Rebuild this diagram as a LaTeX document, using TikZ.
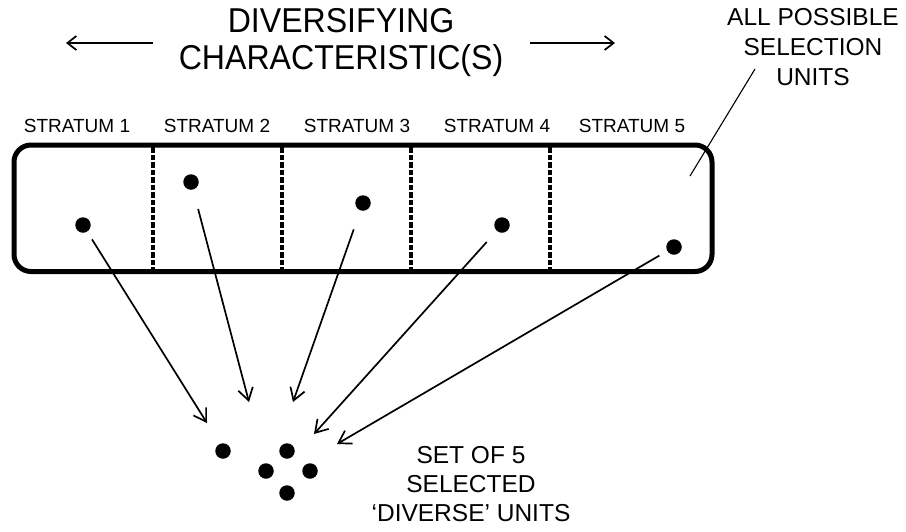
\documentclass[tikz,border=0pt]{standalone}
\usepackage{fontspec}
\setmainfont{Liberation Sans}
\usetikzlibrary{arrows.meta}
\newcommand{\narrowtitle}[1]{\scalebox{0.93}[1]{#1}}
\begin{document}
\begin{tikzpicture}[x=1pt,y=-1pt,
  lbl/.style={inner sep=0pt, anchor=base},
  titlefont/.style={font=\fontsize{34.5}{40}\selectfont},
  stratfont/.style={font=\fontsize{19}{23}\selectfont},
  notefont/.style={font=\fontsize{24.5}{29}\selectfont},
  unitdot/.style={circle, fill=black, inner sep=0pt, minimum size=15.5pt},
  selarrow/.style={-{Straight Barb[length=12pt,width=15pt,line width=1.7pt]}, line width=1.7pt},
  dirarrow/.style={-{Straight Barb[length=9pt,width=14pt,line width=1.7pt]}, line width=1.7pt},
  divider/.style={line width=3.2pt, dash pattern=on 5.5pt off 2pt}
]
\useasboundingbox (0,0) rectangle (906,531);

% title
\node[lbl, titlefont] (t1) at (341,32) {\narrowtitle{DIVERSIFYING}};
\node[lbl, titlefont] (t2) at (341,69) {\narrowtitle{CHARACTERISTIC(S)}};
\coordinate (la1) at (153,43);
\coordinate (la2) at (66,43);
\coordinate (ra1) at (530,43);
\coordinate (ra2) at (615,43);
\draw[dirarrow] (la1) -- (la2);
\draw[dirarrow] (ra1) -- (ra2);

% note top right
\node[lbl, notefont] (n1) at (813,25) {ALL POSSIBLE};
\node[lbl, notefont] (n2) at (813,55) {SELECTION};
\node[lbl, notefont] (n3) at (813,85) {UNITS};
\coordinate (lead1) at (755,69);
\coordinate (lead2) at (690,176);
\draw[line width=1.1pt] (lead1) -- (lead2);

% strata labels
\node[lbl, stratfont] (s1) at (77,132) {STRATUM 1};
\node[lbl, stratfont] (s2) at (217,132) {STRATUM 2};
\node[lbl, stratfont] (s3) at (357,132) {STRATUM 3};
\node[lbl, stratfont] (s4) at (497,132) {STRATUM 4};
\node[lbl, stratfont] (s5) at (632,132) {STRATUM 5};

% frame
\draw[divider] (153,147) -- (153,270);
\draw[divider] (282,147) -- (282,270);
\draw[divider] (411,147) -- (411,270);
\draw[divider] (550,147) -- (550,270);
\draw[line width=5pt, rounded corners=17pt] (14,145) rectangle (712,271.5);

% units in strata
\node[unitdot] (d1) at (83,225) {};
\node[unitdot] (d2) at (191,182) {};
\node[unitdot] (d3) at (363,203) {};
\node[unitdot] (d4) at (502,225) {};
\node[unitdot] (d5) at (674,247) {};

% arrow tips
\coordinate (p1) at (207,423);
\coordinate (p2) at (249,402);
\coordinate (p3) at (293,402);
\coordinate (p4) at (314,434);
\coordinate (p5) at (337,444);

\draw[selarrow, shorten <=9pt] (d1) -- (p1);
\draw[selarrow, shorten <=20pt] (d2) -- (p2);
\draw[selarrow, shorten <=20pt] (d3) -- (p3);
\draw[selarrow, shorten <=15pt] (d4) -- (p4);
\draw[selarrow, shorten <=9pt] (d5) -- (p5);

% selected set
\node[unitdot] (u1) at (223,451) {};
\node[unitdot] (u2) at (287,451) {};
\node[unitdot] (u3) at (266,471) {};
\node[unitdot] (u4) at (310,471) {};
\node[unitdot] (u5) at (287,493) {};

\node[lbl, notefont] (m1) at (471,463) {SET OF 5};
\node[lbl, notefont] (m2) at (471,492) {SELECTED};
\node[lbl, notefont] (m3) at (471,521) {`DIVERSE' UNITS};
\end{tikzpicture}
\end{document}
